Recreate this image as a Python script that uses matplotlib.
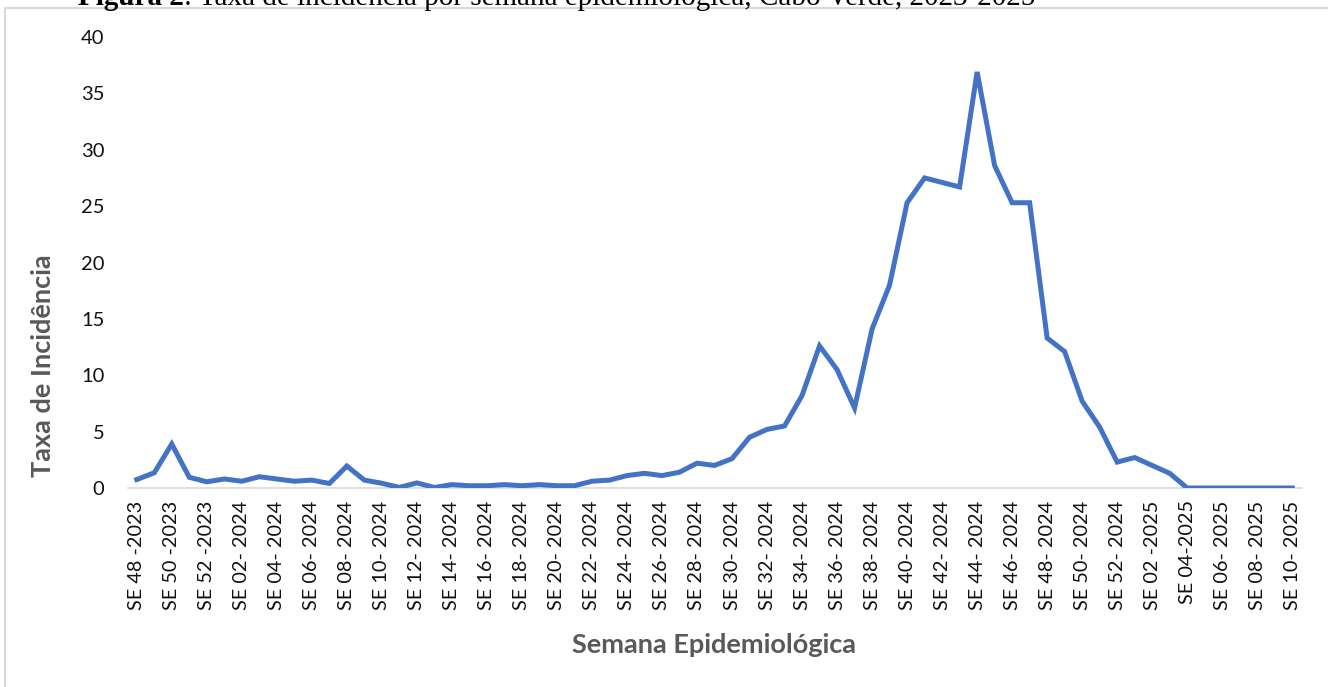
# taxa de incidencia por semana epidemiologica, Cabo Verde 2023-2025

import matplotlib.pyplot as plt
from matplotlib.patches import Rectangle

semanas = ["SE 48 -2023", "SE 49 -2023", "SE 50 -2023", "SE 51 -2023", "SE 52 -2023",
           "SE 01- 2024", "SE 02- 2024", "SE 03- 2024", "SE 04- 2024", "SE 05- 2024",
           "SE 06- 2024", "SE 07- 2024", "SE 08- 2024", "SE 09- 2024", "SE 10- 2024",
           "SE 11- 2024", "SE 12- 2024", "SE 13- 2024", "SE 14- 2024", "SE 15- 2024",
           "SE 16- 2024", "SE 17- 2024", "SE 18- 2024", "SE 19- 2024", "SE 20- 2024",
           "SE 21- 2024", "SE 22- 2024", "SE 23- 2024", "SE 24- 2024", "SE 25- 2024",
           "SE 26- 2024", "SE 27- 2024", "SE 28- 2024", "SE 29- 2024", "SE 30- 2024",
           "SE 31- 2024", "SE 32- 2024", "SE 33- 2024", "SE 34- 2024", "SE 35- 2024",
           "SE 36- 2024", "SE 37- 2024", "SE 38- 2024", "SE 39- 2024", "SE 40- 2024",
           "SE 41- 2024", "SE 42- 2024", "SE 43- 2024", "SE 44- 2024", "SE 45- 2024",
           "SE 46- 2024", "SE 47- 2024", "SE 48- 2024", "SE 49- 2024", "SE 50- 2024",
           "SE 51- 2024", "SE 52- 2024", "SE 01 -2025", "SE 02 -2025", "SE 03-2025",
           "SE 04-2025", "SE 05- 2025", "SE 06- 2025", "SE 07- 2025", "SE 08- 2025",
           "SE 09- 2025", "SE 10- 2025"]

taxa = [0.75, 1.35, 3.9, 0.95, 0.55,
        0.8, 0.6, 1.0, 0.8, 0.6, 0.7, 0.4, 1.95, 0.7, 0.42,
        0.05, 0.45, 0.05, 0.3, 0.2, 0.2, 0.3, 0.2, 0.3, 0.2,
        0.2, 0.6, 0.7, 1.1, 1.3, 1.1, 1.4, 2.2, 2.0, 2.6,
        4.5, 5.2, 5.5, 8.2, 12.6, 10.5, 7.1, 14.1, 18.0, 25.3,
        27.5, 27.1, 26.7, 36.9, 28.6, 25.3, 25.3, 13.3, 12.1, 7.7,
        5.4, 2.3,
        2.7, 2.0, 1.3, 0, 0, 0, 0, 0, 0, 0]

titulo_bold = "Figura 2"
titulo_resto = ": Taxa de incidência por semana epidemiológica, Cabo Verde, 2023-2025"

fnt = "Lato"
cinza = "#595959"

fig = plt.figure(figsize=(13.28, 6.87), dpi=100)
ax = fig.add_axes([128/1328, 1 - 488/687, (1301 - 128)/1328, (488 - 37)/687])

x = list(range(len(taxa)))
ax.plot(x, taxa, color="#4472C4", lw=3.6, solid_joinstyle="miter")

ax.set_xlim(-0.5, len(taxa) - 0.5)
ax.set_ylim(0, 40)
ax.set_yticks(range(0, 41, 5))
ax.set_xticks(x[::2])
ax.set_xticklabels(semanas[::2], rotation=90, fontsize=14.3, family=fnt)
for lab in ax.get_yticklabels():
    lab.set_family(fnt)
    lab.set_fontsize(14.5)
ax.tick_params(axis="both", length=0, labelcolor="#111111")
ax.tick_params(axis="y", pad=17)
ax.tick_params(axis="x", pad=9)

for s in ["top", "right", "left"]:
    ax.spines[s].set_visible(False)
ax.spines["bottom"].set_color("#d9d9d9")
ax.spines["bottom"].set_linewidth(1.2)
ax.spines["bottom"].set_zorder(0)

fig.text(714/1328, 1 - 645/687, "Semana Epidemiológica",
         ha="center", va="center", fontsize=19.5, fontweight="bold", color=cinza, family=fnt)
fig.text(43/1328, 1 - 366/687, "Taxa de Incidência", rotation=90,
         ha="center", va="center", fontsize=19.5, fontweight="bold", color=cinza, family=fnt)

# moldura do grafico (cortada a direita e em baixo)
fig.add_artist(Rectangle((5/1328, -0.1), 1.2, 1 - 8/687 + 0.1, transform=fig.transFigure,
                         fill=False, edgecolor="#d9d9d9", lw=1.5, clip_on=False))

# titulo cortado no topo, como no original
t = fig.text(78/1328, 1 - 5/687, titulo_bold, ha="left", va="baseline",
             fontsize=21, fontweight="bold", family="Liberation Serif")
fig.canvas.draw()
bb = t.get_window_extent()
fig.text(bb.x1/1328, 1 - 5/687, titulo_resto, ha="left", va="baseline",
         fontsize=21, family="Liberation Serif")

fig.savefig("out.png", dpi=100)
